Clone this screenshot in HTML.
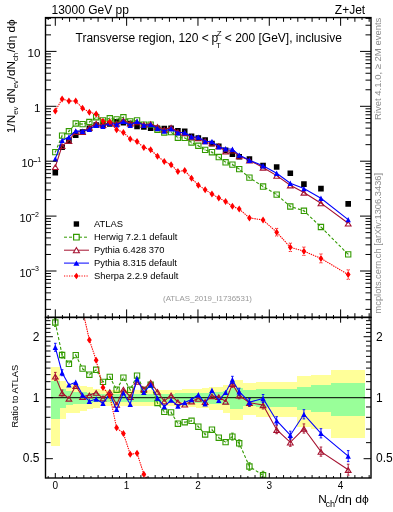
<!DOCTYPE html><html><head><meta charset="utf-8"><style>html,body{margin:0;padding:0;background:#fff;overflow:hidden}svg{display:block;will-change:transform}</style></head><body><svg width="393" height="512" viewBox="0 0 393 512">
<defs>
<clipPath id="cu"><rect x="45.5" y="17.6" width="325.5" height="299.79999999999995"/></clipPath>
<clipPath id="cr"><rect x="45.5" y="317.4" width="325.5" height="160.60000000000002"/></clipPath>
</defs>
<rect width="393" height="512" fill="#fff"/>
<g clip-path="url(#cr)">
<path d="M51.00 366.85H59.80V445.63H51.00zM59.80 380.56H66.20V419.00H59.80zM66.20 384.49H73.01V413.25H66.20zM73.01 385.02H79.81V412.52H73.01zM79.81 386.25H86.62V410.87H79.81zM86.62 387.34H93.42V409.45H86.62zM93.42 388.52H100.23V407.95H93.42zM100.23 389.71H107.03V406.48H100.23zM107.03 390.44H113.84V405.61H107.03zM113.84 390.44H120.64V405.61H113.84zM120.64 390.44H127.45V405.61H120.64zM127.45 390.44H134.25V405.61H127.45zM134.25 390.44H141.06V405.61H134.25zM141.06 390.44H147.87V405.61H141.06zM147.87 390.44H154.67V405.61H147.87zM154.67 390.44H161.47V405.61H154.67zM161.47 390.12H168.28V406.00H161.47zM168.28 389.88H175.09V406.29H168.28zM175.09 389.63H181.89V406.58H175.09zM181.89 389.39H188.69V406.87H181.89zM188.69 389.07H195.50V407.26H188.69zM195.50 388.68H202.31V407.76H195.50zM202.31 388.36H209.11V408.15H202.31zM209.11 386.95H215.91V409.95H209.11zM215.91 386.64H222.72V410.36H215.91zM222.72 385.02H229.53V412.52H222.72zM229.53 380.06H236.33V419.79H229.53zM236.33 380.06H243.13V419.79H236.33zM243.13 383.14H256.20V415.16H243.13zM256.20 382.03H269.80V416.79H256.20zM269.80 382.03H283.40V416.79H269.80zM283.40 382.03H297.00V416.79H283.40zM297.00 375.98H310.60V426.60H297.00zM310.60 374.62H331.10V429.08H310.60zM331.10 370.00H365.10V438.35H331.10z" fill="#ffff99" shape-rendering="crispEdges"/>
<path d="M51.00 380.56H59.80V419.00H51.00zM59.80 388.52H66.20V407.95H59.80zM66.20 390.68H73.01V405.32H66.20zM73.01 391.58H79.81V404.27H73.01zM79.81 391.99H86.62V403.80H79.81zM86.62 392.91H93.42V402.77H86.62zM93.42 393.41H100.23V402.21H93.42zM100.23 393.66H107.03V401.94H100.23zM107.03 393.83H113.84V401.75H107.03zM113.84 393.83H120.64V401.75H113.84zM120.64 393.83H127.45V401.75H120.64zM127.45 393.83H134.25V401.75H127.45zM134.25 393.83H141.06V401.75H134.25zM141.06 393.83H147.87V401.75H141.06zM147.87 393.83H154.67V401.75H147.87zM154.67 393.83H161.47V401.75H154.67zM161.47 393.66H168.28V401.94H161.47zM168.28 393.57H175.09V402.03H168.28zM175.09 393.41H181.89V402.21H175.09zM181.89 393.24H188.69V402.40H181.89zM188.69 393.07H195.50V402.58H188.69zM195.50 392.91H202.31V402.77H195.50zM202.31 392.74H209.11V402.96H202.31zM209.11 392.08H215.91V403.71H209.11zM215.91 391.91H222.72V403.90H215.91zM222.72 390.68H229.53V405.32H222.72zM229.53 387.96H236.33V408.65H229.53zM236.33 387.96H243.13V408.65H236.33zM243.13 390.44H256.20V405.61H243.13zM256.20 389.47H269.80V406.78H256.20zM269.80 389.47H283.40V406.78H269.80zM283.40 389.47H297.00V406.78H283.40zM297.00 386.56H310.60V410.46H297.00zM310.60 385.40H331.10V412.00H310.60zM331.10 382.76H365.10V415.70H331.10z" fill="#99ff99" shape-rendering="crispEdges"/>
<path d="M45.5 397.7H371.0" stroke="#000" stroke-width="1"/>
<path d="M55.30 322.50 L62.11 355.00 L68.92 363.80 L75.73 355.10 L82.55 368.60 L89.36 374.70 L96.17 369.80 L102.98 381.90 L109.79 376.90 L116.60 389.70 L123.41 377.60 L130.23 389.80 L137.04 375.60 L143.85 389.90 L150.66 384.80 L157.47 403.00 L164.28 411.90 L171.10 412.40 L177.91 423.70 L184.72 422.20 L191.53 420.80 L198.34 426.70 L205.15 434.50 L211.96 429.70 L218.78 437.70 L225.59 442.10 L232.40 436.60 L239.21 443.30 L249.43 466.50 L263.05 475.30 L276.67 499.52 L290.30 520.65 L303.92 496.07 L320.95 539.38 L348.19 584.28" fill="none" stroke="#339a00" stroke-width="1.1" stroke-dasharray="3 2"/>
<path d="M55.30 318.50V326.50M54.00 318.50h2.6M54.00 326.50h2.6M62.11 352.00V358.00M60.81 352.00h2.6M60.81 358.00h2.6M232.40 433.10V440.10M231.10 433.10h2.6M231.10 440.10h2.6M239.21 439.80V446.80M237.91 439.80h2.6M237.91 446.80h2.6M249.43 462.70V470.30M248.13 462.70h2.6M248.13 470.30h2.6M263.05 471.30V479.30M261.75 471.30h2.6M261.75 479.30h2.6M276.67 495.52V503.52M275.37 495.52h2.6M275.37 503.52h2.6M290.30 516.65V524.65M289.00 516.65h2.6M289.00 524.65h2.6M303.92 491.47V500.67M302.62 491.47h2.6M302.62 500.67h2.6M320.95 534.78V543.98M319.65 534.78h2.6M319.65 543.98h2.6M348.19 578.78V589.78M346.89 578.78h2.6M346.89 589.78h2.6" fill="none" stroke="#339a00" stroke-width="0.9"/>
<path d="M52.65 319.85h5.3v5.3h-5.3zM59.46 352.35h5.3v5.3h-5.3zM66.27 361.15h5.3v5.3h-5.3zM73.08 352.45h5.3v5.3h-5.3zM79.90 365.95h5.3v5.3h-5.3zM86.71 372.05h5.3v5.3h-5.3zM93.52 367.15h5.3v5.3h-5.3zM100.33 379.25h5.3v5.3h-5.3zM107.14 374.25h5.3v5.3h-5.3zM113.95 387.05h5.3v5.3h-5.3zM120.76 374.95h5.3v5.3h-5.3zM127.58 387.15h5.3v5.3h-5.3zM134.39 372.95h5.3v5.3h-5.3zM141.20 387.25h5.3v5.3h-5.3zM148.01 382.15h5.3v5.3h-5.3zM154.82 400.35h5.3v5.3h-5.3zM161.63 409.25h5.3v5.3h-5.3zM168.45 409.75h5.3v5.3h-5.3zM175.26 421.05h5.3v5.3h-5.3zM182.07 419.55h5.3v5.3h-5.3zM188.88 418.15h5.3v5.3h-5.3zM195.69 424.05h5.3v5.3h-5.3zM202.50 431.85h5.3v5.3h-5.3zM209.31 427.05h5.3v5.3h-5.3zM216.13 435.05h5.3v5.3h-5.3zM222.94 439.45h5.3v5.3h-5.3zM229.75 433.95h5.3v5.3h-5.3zM236.56 440.65h5.3v5.3h-5.3zM246.78 463.85h5.3v5.3h-5.3zM260.40 472.65h5.3v5.3h-5.3zM274.02 496.87h5.3v5.3h-5.3zM287.65 518.00h5.3v5.3h-5.3zM301.27 493.42h5.3v5.3h-5.3zM318.30 536.73h5.3v5.3h-5.3zM345.54 581.63h5.3v5.3h-5.3z" fill="none" stroke="#339a00" stroke-width="1.1"/>
<path d="M55.30 321.30v2.4M62.11 353.80v2.4M68.92 362.60v2.4M75.73 353.90v2.4M82.55 367.40v2.4M89.36 373.50v2.4M96.17 368.60v2.4M102.98 380.70v2.4M109.79 375.70v2.4M116.60 388.50v2.4M123.41 376.40v2.4M130.23 388.60v2.4M137.04 374.40v2.4M143.85 388.70v2.4M150.66 383.60v2.4M157.47 401.80v2.4M164.28 410.70v2.4M171.10 411.20v2.4M177.91 422.50v2.4M184.72 421.00v2.4M191.53 419.60v2.4M198.34 425.50v2.4M205.15 433.30v2.4M211.96 428.50v2.4M218.78 436.50v2.4M225.59 440.90v2.4M232.40 435.40v2.4M239.21 442.10v2.4M249.43 465.30v2.4M263.05 474.10v2.4M276.67 498.32v2.4M290.30 519.45v2.4M303.92 494.87v2.4M320.95 538.18v2.4M348.19 583.08v2.4" stroke="#339a00" stroke-width="0.8" opacity="0.6"/>
<path d="M55.30 376.40 L62.11 393.00 L68.92 398.50 L75.73 385.80 L82.55 396.70 L89.36 395.10 L96.17 392.60 L102.98 398.20 L109.79 391.90 L116.60 404.60 L123.41 389.30 L130.23 396.70 L137.04 381.60 L143.85 389.00 L150.66 382.30 L157.47 391.60 L164.28 401.20 L171.10 395.20 L177.91 401.90 L184.72 404.40 L191.53 401.20 L198.34 398.60 L205.15 401.70 L211.96 396.00 L218.78 396.90 L225.59 401.50 L232.40 383.90 L239.21 395.30 L249.43 402.70 L263.05 405.00 L276.67 429.70 L290.30 442.30 L303.92 428.50 L320.95 451.60 L348.19 469.70" fill="none" stroke="#a5112f" stroke-width="1.1"/>
<path d="M55.30 372.40V380.40M54.00 372.40h2.6M54.00 380.40h2.6M62.11 390.00V396.00M60.81 390.00h2.6M60.81 396.00h2.6M232.40 380.40V387.40M231.10 380.40h2.6M231.10 387.40h2.6M239.21 391.80V398.80M237.91 391.80h2.6M237.91 398.80h2.6M249.43 398.90V406.50M248.13 398.90h2.6M248.13 406.50h2.6M263.05 401.00V409.00M261.75 401.00h2.6M261.75 409.00h2.6M276.67 425.70V433.70M275.37 425.70h2.6M275.37 433.70h2.6M290.30 438.30V446.30M289.00 438.30h2.6M289.00 446.30h2.6M303.92 423.90V433.10M302.62 423.90h2.6M302.62 433.10h2.6M320.95 447.00V456.20M319.65 447.00h2.6M319.65 456.20h2.6M348.19 464.20V475.20M346.89 464.20h2.6M346.89 475.20h2.6" fill="none" stroke="#a5112f" stroke-width="0.9"/>
<path d="M52.45 379.05L58.15 379.05L55.30 374.35zM59.26 395.65L64.96 395.65L62.11 390.95zM66.07 401.15L71.77 401.15L68.92 396.45zM72.88 388.45L78.58 388.45L75.73 383.75zM79.70 399.35L85.40 399.35L82.55 394.65zM86.51 397.75L92.21 397.75L89.36 393.05zM93.32 395.25L99.02 395.25L96.17 390.55zM100.13 400.85L105.83 400.85L102.98 396.15zM106.94 394.55L112.64 394.55L109.79 389.85zM113.75 407.25L119.45 407.25L116.60 402.55zM120.56 391.95L126.26 391.95L123.41 387.25zM127.38 399.35L133.08 399.35L130.23 394.65zM134.19 384.25L139.89 384.25L137.04 379.55zM141.00 391.65L146.70 391.65L143.85 386.95zM147.81 384.95L153.51 384.95L150.66 380.25zM154.62 394.25L160.32 394.25L157.47 389.55zM161.43 403.85L167.13 403.85L164.28 399.15zM168.25 397.85L173.95 397.85L171.10 393.15zM175.06 404.55L180.76 404.55L177.91 399.85zM181.87 407.05L187.57 407.05L184.72 402.35zM188.68 403.85L194.38 403.85L191.53 399.15zM195.49 401.25L201.19 401.25L198.34 396.55zM202.30 404.35L208.00 404.35L205.15 399.65zM209.11 398.65L214.81 398.65L211.96 393.95zM215.93 399.55L221.63 399.55L218.78 394.85zM222.74 404.15L228.44 404.15L225.59 399.45zM229.55 386.55L235.25 386.55L232.40 381.85zM236.36 397.95L242.06 397.95L239.21 393.25zM246.58 405.35L252.28 405.35L249.43 400.65zM260.20 407.65L265.90 407.65L263.05 402.95zM273.82 432.35L279.52 432.35L276.67 427.65zM287.45 444.95L293.15 444.95L290.30 440.25zM301.07 431.15L306.77 431.15L303.92 426.45zM318.10 454.25L323.80 454.25L320.95 449.55zM345.34 472.35L351.04 472.35L348.19 467.65z" fill="none" stroke="#a5112f" stroke-width="1.1"/>
<path d="M55.30 347.30 L62.11 372.70 L68.92 384.90 L75.73 382.30 L82.55 395.00 L89.36 401.20 L96.17 399.00 L102.98 403.30 L109.79 394.20 L116.60 409.40 L123.41 392.90 L130.23 404.20 L137.04 378.80 L143.85 392.40 L150.66 384.80 L157.47 398.10 L164.28 406.60 L171.10 400.10 L177.91 406.00 L184.72 402.50 L191.53 399.50 L198.34 394.80 L205.15 403.70 L211.96 390.30 L218.78 400.40 L225.59 392.40 L232.40 379.80 L239.21 391.70 L249.43 402.20 L263.05 398.50 L276.67 420.70 L290.30 435.20 L303.92 414.30 L320.95 433.30 L348.19 456.10" fill="none" stroke="#0000ff" stroke-width="1.1"/>
<path d="M55.30 343.30V351.30M54.00 343.30h2.6M54.00 351.30h2.6M62.11 369.70V375.70M60.81 369.70h2.6M60.81 375.70h2.6M232.40 376.30V383.30M231.10 376.30h2.6M231.10 383.30h2.6M239.21 388.20V395.20M237.91 388.20h2.6M237.91 395.20h2.6M249.43 398.40V406.00M248.13 398.40h2.6M248.13 406.00h2.6M263.05 394.50V402.50M261.75 394.50h2.6M261.75 402.50h2.6M276.67 416.70V424.70M275.37 416.70h2.6M275.37 424.70h2.6M290.30 431.20V439.20M289.00 431.20h2.6M289.00 439.20h2.6M303.92 409.70V418.90M302.62 409.70h2.6M302.62 418.90h2.6M320.95 428.70V437.90M319.65 428.70h2.6M319.65 437.90h2.6M348.19 450.60V461.60M346.89 450.60h2.6M346.89 461.60h2.6" fill="none" stroke="#0000ff" stroke-width="0.9"/>
<path d="M52.60 350.00L58.00 350.00L55.30 344.60zM59.41 375.40L64.81 375.40L62.11 370.00zM66.22 387.60L71.62 387.60L68.92 382.20zM73.03 385.00L78.43 385.00L75.73 379.60zM79.85 397.70L85.25 397.70L82.55 392.30zM86.66 403.90L92.06 403.90L89.36 398.50zM93.47 401.70L98.87 401.70L96.17 396.30zM100.28 406.00L105.68 406.00L102.98 400.60zM107.09 396.90L112.49 396.90L109.79 391.50zM113.90 412.10L119.30 412.10L116.60 406.70zM120.71 395.60L126.11 395.60L123.41 390.20zM127.53 406.90L132.93 406.90L130.23 401.50zM134.34 381.50L139.74 381.50L137.04 376.10zM141.15 395.10L146.55 395.10L143.85 389.70zM147.96 387.50L153.36 387.50L150.66 382.10zM154.77 400.80L160.17 400.80L157.47 395.40zM161.58 409.30L166.98 409.30L164.28 403.90zM168.40 402.80L173.80 402.80L171.10 397.40zM175.21 408.70L180.61 408.70L177.91 403.30zM182.02 405.20L187.42 405.20L184.72 399.80zM188.83 402.20L194.23 402.20L191.53 396.80zM195.64 397.50L201.04 397.50L198.34 392.10zM202.45 406.40L207.85 406.40L205.15 401.00zM209.26 393.00L214.66 393.00L211.96 387.60zM216.08 403.10L221.48 403.10L218.78 397.70zM222.89 395.10L228.29 395.10L225.59 389.70zM229.70 382.50L235.10 382.50L232.40 377.10zM236.51 394.40L241.91 394.40L239.21 389.00zM246.73 404.90L252.13 404.90L249.43 399.50zM260.35 401.20L265.75 401.20L263.05 395.80zM273.97 423.40L279.37 423.40L276.67 418.00zM287.60 437.90L293.00 437.90L290.30 432.50zM301.22 417.00L306.62 417.00L303.92 411.60zM318.25 436.00L323.65 436.00L320.95 430.60zM345.49 458.80L350.89 458.80L348.19 453.40z" fill="#0000ff" stroke="none"/>
<path d="M55.30 170.87 L62.11 220.21 L68.92 252.30 L75.73 272.17 L82.55 309.92 L89.36 339.90 L96.17 360.30 L102.98 387.50 L109.79 395.40 L116.60 427.82 L123.41 433.42 L130.23 454.29 L137.04 453.20 L143.85 474.17 L150.66 484.00 L157.47 500.86 L164.28 518.57 L171.10 532.33 L177.91 548.54 L184.72 542.46 L191.53 552.35 L198.34 572.33 L205.15 581.23 L211.96 583.67 L218.78 588.61 L225.59 586.14 L232.40 590.11 L239.21 590.23 L249.43 614.72 L263.05 598.50 L276.67 638.01 L290.30 670.93 L303.92 644.87 L320.95 655.03 L348.19 658.68" fill="none" stroke="#ff0000" stroke-width="1.1" stroke-dasharray="1.4 0.9"/>
<path d="M276.67 634.21V641.81M275.17 634.21h3M275.17 641.81h3M290.30 666.73V675.13M288.80 666.73h3M288.80 675.13h3M303.92 640.67V649.07M302.42 640.67h3M302.42 649.07h3M320.95 650.53V659.53M319.45 650.53h3M319.45 659.53h3M348.19 653.88V663.48M346.69 653.88h3M346.69 663.48h3" fill="none" stroke="#ff0000" stroke-width="1.0" stroke-dasharray="1 1"/>
<path d="M55.30 167.37L57.70 170.87L55.30 174.37L52.90 170.87zM62.11 216.71L64.51 220.21L62.11 223.71L59.71 220.21zM68.92 248.80L71.32 252.30L68.92 255.80L66.52 252.30zM75.73 268.67L78.13 272.17L75.73 275.67L73.33 272.17zM82.55 306.42L84.95 309.92L82.55 313.42L80.15 309.92zM89.36 336.40L91.76 339.90L89.36 343.40L86.96 339.90zM96.17 356.80L98.57 360.30L96.17 363.80L93.77 360.30zM102.98 384.00L105.38 387.50L102.98 391.00L100.58 387.50zM109.79 391.90L112.19 395.40L109.79 398.90L107.39 395.40zM116.60 424.32L119.00 427.82L116.60 431.32L114.20 427.82zM123.41 429.92L125.81 433.42L123.41 436.92L121.01 433.42zM130.23 450.79L132.63 454.29L130.23 457.79L127.83 454.29zM137.04 449.70L139.44 453.20L137.04 456.70L134.64 453.20zM143.85 470.67L146.25 474.17L143.85 477.67L141.45 474.17zM150.66 480.50L153.06 484.00L150.66 487.50L148.26 484.00zM157.47 497.36L159.87 500.86L157.47 504.36L155.07 500.86zM164.28 515.07L166.68 518.57L164.28 522.07L161.88 518.57zM171.10 528.83L173.50 532.33L171.10 535.83L168.70 532.33zM177.91 545.04L180.31 548.54L177.91 552.04L175.51 548.54zM184.72 538.96L187.12 542.46L184.72 545.96L182.32 542.46zM191.53 548.85L193.93 552.35L191.53 555.85L189.13 552.35zM198.34 568.83L200.74 572.33L198.34 575.83L195.94 572.33zM205.15 577.73L207.55 581.23L205.15 584.73L202.75 581.23zM211.96 580.17L214.36 583.67L211.96 587.17L209.56 583.67zM218.78 585.11L221.18 588.61L218.78 592.11L216.38 588.61zM225.59 582.64L227.99 586.14L225.59 589.64L223.19 586.14zM232.40 586.61L234.80 590.11L232.40 593.61L230.00 590.11zM239.21 586.73L241.61 590.23L239.21 593.73L236.81 590.23zM249.43 611.22L251.83 614.72L249.43 618.22L247.03 614.72zM263.05 595.00L265.45 598.50L263.05 602.00L260.65 598.50zM276.67 634.51L279.07 638.01L276.67 641.51L274.27 638.01zM290.30 667.43L292.70 670.93L290.30 674.43L287.90 670.93zM303.92 641.37L306.32 644.87L303.92 648.37L301.52 644.87zM320.95 651.53L323.35 655.03L320.95 658.53L318.55 655.03zM348.19 655.18L350.59 658.68L348.19 662.18L345.79 658.68z" fill="#ff0000" stroke="none"/>
</g>
<g clip-path="url(#cu)">
<path d="M52.50 169.87h5.6v5.6h-5.6zM59.31 144.47h5.6v5.6h-5.6zM66.12 137.76h5.6v5.6h-5.6zM72.93 132.36h5.6v5.6h-5.6zM79.75 129.31h5.6v5.6h-5.6zM86.56 125.53h5.6v5.6h-5.6zM93.37 122.13h5.6v5.6h-5.6zM100.18 121.96h5.6v5.6h-5.6zM106.99 121.23h5.6v5.6h-5.6zM113.80 118.90h5.6v5.6h-5.6zM120.61 119.98h5.6v5.6h-5.6zM127.43 120.82h5.6v5.6h-5.6zM134.24 123.71h5.6v5.6h-5.6zM141.05 124.12h5.6v5.6h-5.6zM147.86 125.38h5.6v5.6h-5.6zM154.67 125.57h5.6v5.6h-5.6zM161.48 125.87h5.6v5.6h-5.6zM168.30 125.43h5.6v5.6h-5.6zM175.11 127.93h5.6v5.6h-5.6zM181.92 128.48h5.6v5.6h-5.6zM188.73 133.49h5.6v5.6h-5.6zM195.54 135.17h5.6v5.6h-5.6zM202.35 137.15h5.6v5.6h-5.6zM209.16 140.79h5.6v5.6h-5.6zM215.98 143.45h5.6v5.6h-5.6zM222.79 147.52h5.6v5.6h-5.6zM229.60 151.34h5.6v5.6h-5.6zM236.41 154.01h5.6v5.6h-5.6zM246.63 156.26h5.6v5.6h-5.6zM260.25 162.76h5.6v5.6h-5.6zM273.87 164.24h5.6v5.6h-5.6zM287.50 170.40h5.6v5.6h-5.6zM301.12 181.37h5.6v5.6h-5.6zM318.15 185.82h5.6v5.6h-5.6zM345.39 201.03h5.6v5.6h-5.6z" fill="#000"/>
<path d="M55.30 152.17 L62.11 135.59 L68.92 131.27 L75.73 123.52 L82.55 124.13 L89.36 122.01 L96.17 117.27 L102.98 120.39 L109.79 118.30 L116.60 119.45 L123.41 117.25 L130.23 121.39 L137.04 120.43 L143.85 124.72 L150.66 124.60 L157.47 129.73 L164.28 132.44 L171.10 132.14 L177.91 137.71 L184.72 137.85 L191.53 142.48 L198.34 145.76 L205.15 149.86 L211.96 152.20 L218.78 157.03 L225.59 162.29 L232.40 164.62 L239.21 169.11 L249.43 177.66 L263.05 186.55 L276.67 194.60 L290.30 206.50 L303.92 210.80 L320.95 227.00 L348.19 254.40" fill="none" stroke="#339a00" stroke-width="1.1" stroke-dasharray="3 2"/>
<path d="" fill="none" stroke="#339a00" stroke-width="0.9"/>
<path d="M52.65 149.52h5.3v5.3h-5.3zM59.46 132.94h5.3v5.3h-5.3zM66.27 128.62h5.3v5.3h-5.3zM73.08 120.87h5.3v5.3h-5.3zM79.90 121.48h5.3v5.3h-5.3zM86.71 119.36h5.3v5.3h-5.3zM93.52 114.62h5.3v5.3h-5.3zM100.33 117.74h5.3v5.3h-5.3zM107.14 115.65h5.3v5.3h-5.3zM113.95 116.80h5.3v5.3h-5.3zM120.76 114.60h5.3v5.3h-5.3zM127.58 118.74h5.3v5.3h-5.3zM134.39 117.78h5.3v5.3h-5.3zM141.20 122.07h5.3v5.3h-5.3zM148.01 121.95h5.3v5.3h-5.3zM154.82 127.08h5.3v5.3h-5.3zM161.63 129.79h5.3v5.3h-5.3zM168.45 129.49h5.3v5.3h-5.3zM175.26 135.06h5.3v5.3h-5.3zM182.07 135.20h5.3v5.3h-5.3zM188.88 139.83h5.3v5.3h-5.3zM195.69 143.11h5.3v5.3h-5.3zM202.50 147.21h5.3v5.3h-5.3zM209.31 149.55h5.3v5.3h-5.3zM216.13 154.38h5.3v5.3h-5.3zM222.94 159.64h5.3v5.3h-5.3zM229.75 161.97h5.3v5.3h-5.3zM236.56 166.46h5.3v5.3h-5.3zM246.78 175.01h5.3v5.3h-5.3zM260.40 183.90h5.3v5.3h-5.3zM274.02 191.95h5.3v5.3h-5.3zM287.65 203.85h5.3v5.3h-5.3zM301.27 208.15h5.3v5.3h-5.3zM318.30 224.35h5.3v5.3h-5.3zM345.54 251.75h5.3v5.3h-5.3z" fill="none" stroke="#339a00" stroke-width="1.1"/>
<path d="M55.30 150.97v2.4M62.11 134.39v2.4M68.92 130.07v2.4M75.73 122.32v2.4M82.55 122.93v2.4M89.36 120.81v2.4M96.17 116.07v2.4M102.98 119.19v2.4M109.79 117.10v2.4M116.60 118.25v2.4M123.41 116.05v2.4M130.23 120.19v2.4M137.04 119.23v2.4M143.85 123.52v2.4M150.66 123.40v2.4M157.47 128.53v2.4M164.28 131.24v2.4M171.10 130.94v2.4M177.91 136.51v2.4M184.72 136.65v2.4M191.53 141.28v2.4M198.34 144.56v2.4M205.15 148.66v2.4M211.96 151.00v2.4M218.78 155.83v2.4M225.59 161.09v2.4M232.40 163.42v2.4M239.21 167.91v2.4M249.43 176.46v2.4M263.05 185.35v2.4M276.67 193.40v2.4M290.30 205.30v2.4M303.92 209.60v2.4M320.95 225.80v2.4M348.19 253.20v2.4" stroke="#339a00" stroke-width="0.8" opacity="0.6"/>
<path d="M55.30 166.80 L62.11 145.91 L68.92 140.69 L75.73 131.85 L82.55 131.76 L89.36 127.54 L96.17 123.46 L102.98 124.82 L109.79 122.38 L116.60 123.50 L123.41 120.42 L130.23 123.26 L137.04 122.06 L143.85 124.48 L150.66 123.92 L157.47 126.64 L164.28 129.53 L171.10 127.47 L177.91 131.79 L184.72 133.02 L191.53 137.16 L198.34 138.13 L205.15 140.96 L211.96 143.05 L218.78 145.95 L225.59 151.27 L232.40 150.31 L239.21 156.08 L249.43 160.34 L263.05 167.46 L276.67 175.64 L290.30 185.23 L303.92 192.46 L320.95 203.17 L348.19 223.29" fill="none" stroke="#a5112f" stroke-width="1.1"/>
<path d="" fill="none" stroke="#a5112f" stroke-width="0.9"/>
<path d="M52.45 169.45L58.15 169.45L55.30 164.75zM59.26 148.56L64.96 148.56L62.11 143.86zM66.07 143.34L71.77 143.34L68.92 138.64zM72.88 134.50L78.58 134.50L75.73 129.80zM79.70 134.41L85.40 134.41L82.55 129.71zM86.51 130.19L92.21 130.19L89.36 125.49zM93.32 126.11L99.02 126.11L96.17 121.41zM100.13 127.47L105.83 127.47L102.98 122.77zM106.94 125.03L112.64 125.03L109.79 120.33zM113.75 126.15L119.45 126.15L116.60 121.45zM120.56 123.07L126.26 123.07L123.41 118.37zM127.38 125.91L133.08 125.91L130.23 121.21zM134.19 124.71L139.89 124.71L137.04 120.01zM141.00 127.13L146.70 127.13L143.85 122.43zM147.81 126.57L153.51 126.57L150.66 121.87zM154.62 129.29L160.32 129.29L157.47 124.59zM161.43 132.18L167.13 132.18L164.28 127.48zM168.25 130.12L173.95 130.12L171.10 125.42zM175.06 134.44L180.76 134.44L177.91 129.74zM181.87 135.67L187.57 135.67L184.72 130.97zM188.68 139.81L194.38 139.81L191.53 135.11zM195.49 140.78L201.19 140.78L198.34 136.08zM202.30 143.61L208.00 143.61L205.15 138.91zM209.11 145.70L214.81 145.70L211.96 141.00zM215.93 148.60L221.63 148.60L218.78 143.90zM222.74 153.92L228.44 153.92L225.59 149.22zM229.55 152.96L235.25 152.96L232.40 148.26zM236.36 158.73L242.06 158.73L239.21 154.03zM246.58 162.99L252.28 162.99L249.43 158.29zM260.20 170.11L265.90 170.11L263.05 165.41zM273.82 178.29L279.52 178.29L276.67 173.59zM287.45 187.88L293.15 187.88L290.30 183.18zM301.07 195.11L306.77 195.11L303.92 190.41zM318.10 205.82L323.80 205.82L320.95 201.12zM345.34 225.94L351.04 225.94L348.19 221.24z" fill="none" stroke="#a5112f" stroke-width="1.1"/>
<path d="M55.30 158.90 L62.11 140.40 L68.92 137.00 L75.73 130.90 L82.55 131.30 L89.36 129.20 L96.17 125.20 L102.98 126.20 L109.79 123.00 L116.60 124.80 L123.41 121.40 L130.23 125.30 L137.04 121.30 L143.85 125.40 L150.66 124.60 L157.47 128.40 L164.28 131.00 L171.10 128.80 L177.91 132.90 L184.72 132.50 L191.53 136.70 L198.34 137.10 L205.15 141.50 L211.96 141.50 L218.78 146.90 L225.59 148.80 L232.40 149.20 L239.21 155.10 L249.43 160.20 L263.05 165.70 L276.67 173.20 L290.30 183.30 L303.92 188.60 L320.95 198.20 L348.19 219.60" fill="none" stroke="#0000ff" stroke-width="1.1"/>
<path d="" fill="none" stroke="#0000ff" stroke-width="0.9"/>
<path d="M52.60 161.60L58.00 161.60L55.30 156.20zM59.41 143.10L64.81 143.10L62.11 137.70zM66.22 139.70L71.62 139.70L68.92 134.30zM73.03 133.60L78.43 133.60L75.73 128.20zM79.85 134.00L85.25 134.00L82.55 128.60zM86.66 131.90L92.06 131.90L89.36 126.50zM93.47 127.90L98.87 127.90L96.17 122.50zM100.28 128.90L105.68 128.90L102.98 123.50zM107.09 125.70L112.49 125.70L109.79 120.30zM113.90 127.50L119.30 127.50L116.60 122.10zM120.71 124.10L126.11 124.10L123.41 118.70zM127.53 128.00L132.93 128.00L130.23 122.60zM134.34 124.00L139.74 124.00L137.04 118.60zM141.15 128.10L146.55 128.10L143.85 122.70zM147.96 127.30L153.36 127.30L150.66 121.90zM154.77 131.10L160.17 131.10L157.47 125.70zM161.58 133.70L166.98 133.70L164.28 128.30zM168.40 131.50L173.80 131.50L171.10 126.10zM175.21 135.60L180.61 135.60L177.91 130.20zM182.02 135.20L187.42 135.20L184.72 129.80zM188.83 139.40L194.23 139.40L191.53 134.00zM195.64 139.80L201.04 139.80L198.34 134.40zM202.45 144.20L207.85 144.20L205.15 138.80zM209.26 144.20L214.66 144.20L211.96 138.80zM216.08 149.60L221.48 149.60L218.78 144.20zM222.89 151.50L228.29 151.50L225.59 146.10zM229.70 151.90L235.10 151.90L232.40 146.50zM236.51 157.80L241.91 157.80L239.21 152.40zM246.73 162.90L252.13 162.90L249.43 157.50zM260.35 168.40L265.75 168.40L263.05 163.00zM273.97 175.90L279.37 175.90L276.67 170.50zM287.60 186.00L293.00 186.00L290.30 180.60zM301.22 191.30L306.62 191.30L303.92 185.90zM318.25 200.90L323.65 200.90L320.95 195.50zM345.49 222.30L350.89 222.30L348.19 216.90z" fill="#0000ff" stroke="none"/>
<path d="M55.30 111.00 L62.11 99.00 L68.92 101.00 L75.73 101.00 L82.55 108.20 L89.36 112.20 L96.17 114.00 L102.98 121.30 L109.79 121.80 L116.60 129.80 L123.41 132.40 L130.23 138.90 L137.04 141.50 L143.85 147.60 L150.66 149.70 L157.47 156.30 L164.28 161.40 L171.10 164.70 L177.91 171.60 L184.72 170.50 L191.53 178.20 L198.34 185.30 L205.15 189.70 L211.96 194.00 L218.78 198.00 L225.59 201.40 L232.40 206.30 L239.21 209.00 L249.43 217.90 L263.05 220.00 L276.67 232.20 L290.30 247.30 L303.92 251.20 L320.95 258.40 L348.19 274.60" fill="none" stroke="#ff0000" stroke-width="1.1" stroke-dasharray="1.4 0.9"/>
<path d="M276.67 228.40V236.00M275.17 228.40h3M275.17 236.00h3M290.30 243.10V251.50M288.80 243.10h3M288.80 251.50h3M303.92 247.00V255.40M302.42 247.00h3M302.42 255.40h3M320.95 253.90V262.90M319.45 253.90h3M319.45 262.90h3M348.19 269.80V279.40M346.69 269.80h3M346.69 279.40h3" fill="none" stroke="#ff0000" stroke-width="1.0" stroke-dasharray="1 1"/>
<path d="M55.30 107.50L57.70 111.00L55.30 114.50L52.90 111.00zM62.11 95.50L64.51 99.00L62.11 102.50L59.71 99.00zM68.92 97.50L71.32 101.00L68.92 104.50L66.52 101.00zM75.73 97.50L78.13 101.00L75.73 104.50L73.33 101.00zM82.55 104.70L84.95 108.20L82.55 111.70L80.15 108.20zM89.36 108.70L91.76 112.20L89.36 115.70L86.96 112.20zM96.17 110.50L98.57 114.00L96.17 117.50L93.77 114.00zM102.98 117.80L105.38 121.30L102.98 124.80L100.58 121.30zM109.79 118.30L112.19 121.80L109.79 125.30L107.39 121.80zM116.60 126.30L119.00 129.80L116.60 133.30L114.20 129.80zM123.41 128.90L125.81 132.40L123.41 135.90L121.01 132.40zM130.23 135.40L132.63 138.90L130.23 142.40L127.83 138.90zM137.04 138.00L139.44 141.50L137.04 145.00L134.64 141.50zM143.85 144.10L146.25 147.60L143.85 151.10L141.45 147.60zM150.66 146.20L153.06 149.70L150.66 153.20L148.26 149.70zM157.47 152.80L159.87 156.30L157.47 159.80L155.07 156.30zM164.28 157.90L166.68 161.40L164.28 164.90L161.88 161.40zM171.10 161.20L173.50 164.70L171.10 168.20L168.70 164.70zM177.91 168.10L180.31 171.60L177.91 175.10L175.51 171.60zM184.72 167.00L187.12 170.50L184.72 174.00L182.32 170.50zM191.53 174.70L193.93 178.20L191.53 181.70L189.13 178.20zM198.34 181.80L200.74 185.30L198.34 188.80L195.94 185.30zM205.15 186.20L207.55 189.70L205.15 193.20L202.75 189.70zM211.96 190.50L214.36 194.00L211.96 197.50L209.56 194.00zM218.78 194.50L221.18 198.00L218.78 201.50L216.38 198.00zM225.59 197.90L227.99 201.40L225.59 204.90L223.19 201.40zM232.40 202.80L234.80 206.30L232.40 209.80L230.00 206.30zM239.21 205.50L241.61 209.00L239.21 212.50L236.81 209.00zM249.43 214.40L251.83 217.90L249.43 221.40L247.03 217.90zM263.05 216.50L265.45 220.00L263.05 223.50L260.65 220.00zM276.67 228.70L279.07 232.20L276.67 235.70L274.27 232.20zM290.30 243.80L292.70 247.30L290.30 250.80L287.90 247.30zM303.92 247.70L306.32 251.20L303.92 254.70L301.52 251.20zM320.95 254.90L323.35 258.40L320.95 261.90L318.55 258.40zM348.19 271.10L350.59 274.60L348.19 278.10L345.79 274.60z" fill="#ff0000" stroke="none"/>
</g>
<path d="M48.17 17.60v2.40M55.30 17.60v8.20M62.43 17.60v2.40M69.57 17.60v4.20M76.70 17.60v2.40M83.83 17.60v4.20M90.97 17.60v2.40M98.10 17.60v4.20M105.23 17.60v2.40M112.36 17.60v4.20M119.50 17.60v2.40M126.63 17.60v8.20M133.76 17.60v2.40M140.90 17.60v4.20M148.03 17.60v2.40M155.16 17.60v4.20M162.30 17.60v2.40M169.43 17.60v4.20M176.56 17.60v2.40M183.69 17.60v4.20M190.83 17.60v2.40M197.96 17.60v8.20M205.09 17.60v2.40M212.23 17.60v4.20M219.36 17.60v2.40M226.49 17.60v4.20M233.62 17.60v2.40M240.76 17.60v4.20M247.89 17.60v2.40M255.02 17.60v4.20M262.16 17.60v2.40M269.29 17.60v8.20M276.42 17.60v2.40M283.56 17.60v4.20M290.69 17.60v2.40M297.82 17.60v4.20M304.95 17.60v2.40M312.09 17.60v4.20M319.22 17.60v2.40M326.35 17.60v4.20M333.49 17.60v2.40M340.62 17.60v8.20M347.75 17.60v2.40M354.89 17.60v4.20M362.02 17.60v2.40M369.15 17.60v4.20M48.17 317.40v-2.40M55.30 317.40v-8.00M62.43 317.40v-2.40M69.57 317.40v-4.20M76.70 317.40v-2.40M83.83 317.40v-4.20M90.97 317.40v-2.40M98.10 317.40v-4.20M105.23 317.40v-2.40M112.36 317.40v-4.20M119.50 317.40v-2.40M126.63 317.40v-8.00M133.76 317.40v-2.40M140.90 317.40v-4.20M148.03 317.40v-2.40M155.16 317.40v-4.20M162.30 317.40v-2.40M169.43 317.40v-4.20M176.56 317.40v-2.40M183.69 317.40v-4.20M190.83 317.40v-2.40M197.96 317.40v-8.00M205.09 317.40v-2.40M212.23 317.40v-4.20M219.36 317.40v-2.40M226.49 317.40v-4.20M233.62 317.40v-2.40M240.76 317.40v-4.20M247.89 317.40v-2.40M255.02 317.40v-4.20M262.16 317.40v-2.40M269.29 317.40v-8.00M276.42 317.40v-2.40M283.56 317.40v-4.20M290.69 317.40v-2.40M297.82 317.40v-4.20M304.95 317.40v-2.40M312.09 317.40v-4.20M319.22 317.40v-2.40M326.35 317.40v-4.20M333.49 317.40v-2.40M340.62 317.40v-8.00M347.75 317.40v-2.40M354.89 317.40v-4.20M362.02 317.40v-2.40M369.15 317.40v-4.20M48.17 317.40v1.70M55.30 317.40v5.30M62.43 317.40v1.70M69.57 317.40v2.70M76.70 317.40v1.70M83.83 317.40v2.70M90.97 317.40v1.70M98.10 317.40v2.70M105.23 317.40v1.70M112.36 317.40v2.70M119.50 317.40v1.70M126.63 317.40v5.30M133.76 317.40v1.70M140.90 317.40v2.70M148.03 317.40v1.70M155.16 317.40v2.70M162.30 317.40v1.70M169.43 317.40v2.70M176.56 317.40v1.70M183.69 317.40v2.70M190.83 317.40v1.70M197.96 317.40v5.30M205.09 317.40v1.70M212.23 317.40v2.70M219.36 317.40v1.70M226.49 317.40v2.70M233.62 317.40v1.70M240.76 317.40v2.70M247.89 317.40v1.70M255.02 317.40v2.70M262.16 317.40v1.70M269.29 317.40v5.30M276.42 317.40v1.70M283.56 317.40v2.70M290.69 317.40v1.70M297.82 317.40v2.70M304.95 317.40v1.70M312.09 317.40v2.70M319.22 317.40v1.70M326.35 317.40v2.70M333.49 317.40v1.70M340.62 317.40v5.30M347.75 317.40v1.70M354.89 317.40v2.70M362.02 317.40v1.70M369.15 317.40v2.70M48.17 478.00v-1.90M55.30 478.00v-5.00M62.43 478.00v-1.90M69.57 478.00v-2.90M76.70 478.00v-1.90M83.83 478.00v-2.90M90.97 478.00v-1.90M98.10 478.00v-2.90M105.23 478.00v-1.90M112.36 478.00v-2.90M119.50 478.00v-1.90M126.63 478.00v-5.00M133.76 478.00v-1.90M140.90 478.00v-2.90M148.03 478.00v-1.90M155.16 478.00v-2.90M162.30 478.00v-1.90M169.43 478.00v-2.90M176.56 478.00v-1.90M183.69 478.00v-2.90M190.83 478.00v-1.90M197.96 478.00v-5.00M205.09 478.00v-1.90M212.23 478.00v-2.90M219.36 478.00v-1.90M226.49 478.00v-2.90M233.62 478.00v-1.90M240.76 478.00v-2.90M247.89 478.00v-1.90M255.02 478.00v-2.90M262.16 478.00v-1.90M269.29 478.00v-5.00M276.42 478.00v-1.90M283.56 478.00v-2.90M290.69 478.00v-1.90M297.82 478.00v-2.90M304.95 478.00v-1.90M312.09 478.00v-2.90M319.22 478.00v-1.90M326.35 478.00v-2.90M333.49 478.00v-1.90M340.62 478.00v-5.00M347.75 478.00v-1.90M354.89 478.00v-2.90M362.02 478.00v-1.90M369.15 478.00v-2.90M45.50 309.37h5.5M371.00 309.37h-5.5M45.50 299.71h5.5M371.00 299.71h-5.5M45.50 292.85h5.5M371.00 292.85h-5.5M45.50 287.53h5.5M371.00 287.53h-5.5M45.50 283.18h5.5M371.00 283.18h-5.5M45.50 279.50h5.5M371.00 279.50h-5.5M45.50 276.32h5.5M371.00 276.32h-5.5M45.50 273.51h5.5M371.00 273.51h-5.5M45.50 271.00h11M371.00 271.00h-11M45.50 254.47h5.5M371.00 254.47h-5.5M45.50 244.81h5.5M371.00 244.81h-5.5M45.50 237.95h5.5M371.00 237.95h-5.5M45.50 232.63h5.5M371.00 232.63h-5.5M45.50 228.28h5.5M371.00 228.28h-5.5M45.50 224.60h5.5M371.00 224.60h-5.5M45.50 221.42h5.5M371.00 221.42h-5.5M45.50 218.61h5.5M371.00 218.61h-5.5M45.50 216.10h11M371.00 216.10h-11M45.50 199.57h5.5M371.00 199.57h-5.5M45.50 189.91h5.5M371.00 189.91h-5.5M45.50 183.05h5.5M371.00 183.05h-5.5M45.50 177.73h5.5M371.00 177.73h-5.5M45.50 173.38h5.5M371.00 173.38h-5.5M45.50 169.70h5.5M371.00 169.70h-5.5M45.50 166.52h5.5M371.00 166.52h-5.5M45.50 163.71h5.5M371.00 163.71h-5.5M45.50 161.20h11M371.00 161.20h-11M45.50 144.67h5.5M371.00 144.67h-5.5M45.50 135.01h5.5M371.00 135.01h-5.5M45.50 128.15h5.5M371.00 128.15h-5.5M45.50 122.83h5.5M371.00 122.83h-5.5M45.50 118.48h5.5M371.00 118.48h-5.5M45.50 114.80h5.5M371.00 114.80h-5.5M45.50 111.62h5.5M371.00 111.62h-5.5M45.50 108.81h5.5M371.00 108.81h-5.5M45.50 106.30h11M371.00 106.30h-11M45.50 89.77h5.5M371.00 89.77h-5.5M45.50 80.11h5.5M371.00 80.11h-5.5M45.50 73.25h5.5M371.00 73.25h-5.5M45.50 67.93h5.5M371.00 67.93h-5.5M45.50 63.58h5.5M371.00 63.58h-5.5M45.50 59.90h5.5M371.00 59.90h-5.5M45.50 56.72h5.5M371.00 56.72h-5.5M45.50 53.91h5.5M371.00 53.91h-5.5M45.50 51.40h11M371.00 51.40h-11M45.50 34.87h5.5M371.00 34.87h-5.5M45.50 25.21h5.5M371.00 25.21h-5.5M45.50 18.35h5.5M371.00 18.35h-5.5M45.50 458.69h7.4M371.00 458.69h-7.4M45.50 442.65h5.0M371.00 442.65h-5.0M45.50 429.08h5.0M371.00 429.08h-5.0M45.50 417.33h5.0M371.00 417.33h-5.0M45.50 406.97h5.0M371.00 406.97h-5.0M45.50 397.70h7.4M371.00 397.70h-7.4M45.50 389.31h5.0M371.00 389.31h-5.0M45.50 381.66h5.0M371.00 381.66h-5.0M45.50 374.62h5.0M371.00 374.62h-5.0M45.50 368.09h5.0M371.00 368.09h-5.0M45.50 362.02h5.0M371.00 362.02h-5.0M45.50 356.35h5.0M371.00 356.35h-5.0M45.50 351.01h5.0M371.00 351.01h-5.0M45.50 345.98h5.0M371.00 345.98h-5.0M45.50 341.22h5.0M371.00 341.22h-5.0M45.50 336.71h7.4M371.00 336.71h-7.4M45.50 332.42h5.0M371.00 332.42h-5.0M45.50 328.33h5.0M371.00 328.33h-5.0M45.50 324.41h5.0M371.00 324.41h-5.0M45.50 320.67h5.0M371.00 320.67h-5.0" stroke="#000" stroke-width="1" fill="none"/>
<rect x="45.5" y="17.6" width="325.50" height="299.80" fill="none" stroke="#000" stroke-width="1.4"/>
<rect x="45.5" y="317.4" width="325.50" height="160.60" fill="none" stroke="#000" stroke-width="1.4"/>
<path d="M73.7 221.3h5.4v5.4h-5.4z" fill="#000"/>
<path d="M64.0 237.2H89.0" stroke="#339a00" stroke-width="1" stroke-dasharray="3 2"/>
<path d="M73.60 234.40h5.6v5.6h-5.6z" fill="#fff" stroke="#339a00" stroke-width="1.2"/>
<path d="M64.0 250.2H89.0" stroke="#a5112f" stroke-width="1"/>
<path d="M73.40 252.80L79.40 252.80L76.40 247.60z" fill="#fff" stroke="#a5112f" stroke-width="1.1"/>
<path d="M64.0 263.1H89.0" stroke="#0000ff" stroke-width="1"/>
<path d="M73.40 265.80L79.40 265.80L76.40 260.40z" fill="#0000ff"/>
<path d="M64.0 276.0H89.0" stroke="#ff0000" stroke-width="1" stroke-dasharray="1.2 1.3"/>
<path d="M76.40 272.70L78.70 276.00L76.40 279.30L74.10 276.00z" fill="#ff0000"/>
<g font-family="Liberation Sans, sans-serif" fill="#000">
<text x="51.5" y="14" font-size="12">13000 GeV pp</text>
<text x="365.2" y="13.8" font-size="12" text-anchor="end">Z+Jet</text>
<text x="75.5" y="41.7" font-size="12">Transverse region, 120 &lt; </text>
<text x="211.6" y="41.7" font-size="12">p</text>
<text x="216.8" y="36" font-size="8">Z</text>
<text x="216.2" y="48.3" font-size="7.5">T</text>
<text x="224.8" y="41.7" font-size="12">&lt; 200 [GeV], inclusive</text>
<text x="40.5" y="57.0" font-size="11.6" text-anchor="end">10</text>
<text x="40.5" y="111.9" font-size="11.6" text-anchor="end">1</text>
<text x="21.4" y="167.1" font-size="11">10</text>
<path d="M33.3 161.5h3.8" stroke="#000" stroke-width="0.8"/>
<text x="37.199999999999996" y="161.6" font-size="7">1</text>
<text x="19.5" y="222.0" font-size="11">10</text>
<path d="M31.4 214.5h3.4" stroke="#000" stroke-width="0.8"/>
<text x="34.9" y="216.5" font-size="7">2</text>
<text x="19.5" y="276.9" font-size="11">10</text>
<path d="M31.4 269.4h3.4" stroke="#000" stroke-width="0.8"/>
<text x="34.9" y="271.4" font-size="7">3</text>
<text x="39.4" y="341.0" font-size="12" text-anchor="end">2</text>
<text x="376" y="341.0" font-size="12">2</text>
<text x="39.4" y="402.0" font-size="12" text-anchor="end">1</text>
<text x="376" y="402.0" font-size="12">1</text>
<text x="39.4" y="462.3" font-size="12" text-anchor="end">0.5</text>
<text x="376" y="462.3" font-size="12">0.5</text>
<text x="55.3" y="488.6" font-size="10" text-anchor="middle">0</text>
<text x="126.6" y="488.6" font-size="10" text-anchor="middle">1</text>
<text x="198.0" y="488.6" font-size="10" text-anchor="middle">2</text>
<text x="269.3" y="488.6" font-size="10" text-anchor="middle">3</text>
<text x="340.6" y="488.6" font-size="10" text-anchor="middle">4</text>
<text x="318.3" y="502.6" font-size="11.8">N</text>
<text x="325.4" y="507.0" font-size="8.2" textLength="9.6" lengthAdjust="spacingAndGlyphs">ch</text>
<text x="334.8" y="502.6" font-size="11.8" textLength="34" lengthAdjust="spacingAndGlyphs">/d&#951; d&#981;</text>
<text transform="translate(14.8,133.2) rotate(-90)" font-size="11.8">1/N<tspan font-size="7.8" dy="3.2">ev</tspan><tspan dy="-3.2"> dN</tspan><tspan font-size="7.8" dy="3.2">ev</tspan><tspan dy="-3.2" dx="0.6">/dN</tspan><tspan font-size="7.8" dy="3.2">ch</tspan><tspan dy="-3.2" dx="0.6">/d&#951; d&#981;</tspan></text>
<text transform="translate(18.1,427.6) rotate(-90)" font-size="9.3">Ratio to ATLAS</text>
<text transform="translate(381.0,120.0) rotate(-90)" font-size="9.5" fill="#8c8c8c">Rivet 4.1.0, &#8805; 2M events</text>
<text transform="translate(381.3,313.5) rotate(-90)" font-size="9.3" fill="#8c8c8c">mcplots.cern.ch [arXiv:1306.3436]</text>
<text x="163" y="301.4" font-size="7.9" fill="#999">(ATLAS_2019_I1736531)</text>
<text x="94" y="226.9" font-size="9.4">ATLAS</text>
<text x="94" y="239.9" font-size="9.4">Herwig 7.2.1 default</text>
<text x="94" y="252.9" font-size="9.4">Pythia 6.428 370</text>
<text x="94" y="265.9" font-size="9.4">Pythia 8.315 default</text>
<text x="94" y="278.9" font-size="9.4">Sherpa 2.2.9 default</text>
</g>
</svg></body></html>
